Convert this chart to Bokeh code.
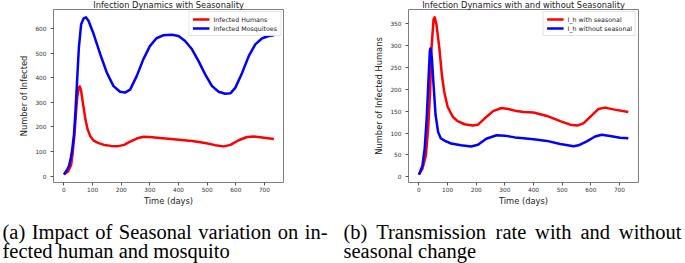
from bokeh.plotting import figure
from bokeh.models import Range1d, FixedTicker, Legend, LegendItem
from bokeh.layouts import column, row
from bokeh.embed import file_html
from bokeh.resources import INLINE
from bokeh.core.properties import value

# ---------------- data ----------------
x_ticks = [0, 100, 200, 300, 400, 500, 600, 700]
left_y_ticks = [0, 100, 200, 300, 400, 500, 600]
right_y_ticks = [0, 50, 100, 150, 200, 250, 300, 350]

left_title = "Infection Dynamics with Seasonality"
right_title = "Infection Dynamics with and without Seasonality"
x_label = "Time (days)"
left_y_label = "Number of Infected"
right_y_label = "Number of Infected Humans"
left_series = ["Infected Humans", "Infected Mosquitoes"]
right_series = ["I_h with seasonal", "I_h without seasonal"]

# (a) infected humans
left_human_days = [0, 15, 25, 30, 36, 41, 46, 51, 55, 60, 67, 75, 83, 92, 104, 121, 140,
                   165, 190, 210, 231, 254, 277, 300, 334, 375, 400, 447, 493, 528, 558,
                   581, 610, 639, 663, 692, 733]
left_human_vals = [6, 20, 45, 90, 160, 240, 318, 359, 365, 346, 291, 230, 189, 162, 144, 134, 127,
                   123, 122, 127, 140, 153, 160, 159, 155, 151, 148, 143, 135, 126, 121,
                   127, 146, 159, 161, 157, 151]
# (a) infected mosquitoes
left_mosq_days = [0, 11, 17, 23, 29, 35, 40, 44, 52, 60, 69, 77, 86, 104, 127, 150, 173, 196,
                  213, 231, 254, 277, 300, 323, 346, 377, 400, 423, 447, 470, 493, 517, 540,
                  563, 581, 598, 622, 645, 668, 692, 715, 733]
left_mosq_vals = [7, 26, 40, 67, 110, 169, 260, 346, 522, 618, 642, 646, 631, 577, 495, 420, 366, 343,
                  340, 352, 407, 475, 529, 561, 573, 575, 570, 550, 516, 468, 414, 366, 343,
                  335, 337, 359, 420, 488, 536, 561, 570, 573]
# (b) I_h with seasonal
right_seas_days = [0, 12, 24, 32, 39, 44, 51, 55, 61, 71, 80, 88, 100, 118, 135, 159, 188, 206,
                   229, 259, 288, 312, 341, 365, 400, 447, 493, 528, 553, 574, 598, 627, 650,
                   679, 731]
right_seas_vals = [5, 18, 48, 110, 195, 295, 360, 364, 348, 295, 233, 195, 160, 137, 127, 120, 117, 119,
                   133, 150, 157, 155, 150, 148, 147, 139, 127, 119, 117, 122, 137, 155, 158,
                   154, 148]
# (b) I_h without seasonal
right_noseas_days = [0, 12, 20, 27, 33, 38, 40, 45, 51, 58, 67, 76, 91, 112, 147, 182, 206, 235,
                     271, 300, 335, 365, 400, 447, 493, 540, 557, 586, 615, 638, 667, 702, 731]
right_noseas_vals = [5, 25, 64, 133, 218, 287, 293, 272, 210, 141, 102, 88, 82, 76, 72, 69, 73, 87,
                     95, 94, 90, 88, 86, 82, 75, 70, 72, 81, 92, 96, 93, 89, 88]

caption_a = ["(a) Impact of Seasonal variation on in-", "fected human and mosquito"]
caption_b = ["(b) Transmission rate with and without", "seasonal change"]

# ---------------- helpers ----------------
SANS = "DejaVu Sans"
SERIF = "Liberation Serif"


def make_panel(width, left_border, right_border, yr, yticks, title, ylabel, xs, ys, labels):
    p = figure(width=width, height=215, output_backend="svg", toolbar_location=None,
               x_range=Range1d(-36.5, 766.5), y_range=Range1d(*yr),
               min_border_left=left_border, min_border_right=right_border,
               min_border_top=0, min_border_bottom=30, title=title)
    p.title.text_font = SANS
    p.title.text_font_size = "8.3px"
    p.title.text_font_style = "normal"
    p.title.text_color = "#222222"
    p.title.align = "center"
    p.title.standoff = 0
    p.xaxis.ticker = FixedTicker(ticks=x_ticks)
    p.yaxis.ticker = FixedTicker(ticks=yticks)
    p.xaxis.axis_label = x_label
    p.yaxis.axis_label = ylabel
    p.grid.visible = False
    for ax in (p.xaxis[0], p.yaxis[0]):
        ax.axis_line_color = None
        ax.major_tick_line_color = "#555555"
        ax.major_tick_out = 3
        ax.major_tick_in = 0
        ax.minor_tick_line_color = None
        ax.major_label_text_font = SANS
        ax.major_label_text_font_size = "5.8px"
        ax.major_label_text_color = "#333333"
        ax.axis_label_text_font = SANS
        ax.axis_label_text_font_size = "8.3px"
        ax.axis_label_text_font_style = "normal"
        ax.axis_label_text_color = "#222222"
    p.xaxis.major_label_standoff = 1
    p.xaxis.axis_label_standoff = 1
    p.yaxis.major_label_standoff = 4
    p.yaxis.axis_label_standoff = 3
    p.outline_line_color = "#7f7f7f"
    p.outline_line_width = 1
    p.background_fill_color = "white"
    p.border_fill_color = "white"

    colors = ["#ff0000", "#0000ff"]
    items = []
    for xv, yv, lab, c in zip(xs, ys, labels, colors):
        r = p.line(xv, yv, line_color=c, line_width=2.5, line_join="round")
        items.append(LegendItem(label=lab, renderers=[r]))
    leg = Legend(items=items, location="top_right")
    leg.label_text_font = SANS
    leg.label_text_font_size = "6.3px"
    leg.label_text_color = "#222222"
    leg.glyph_width = 17
    leg.glyph_height = 8
    leg.label_height = 8
    leg.label_standoff = 4
    leg.spacing = 1
    leg.padding = 3
    leg.margin = 2
    leg.border_line_color = "#cccccc"
    leg.border_line_width = 1
    leg.background_fill_alpha = 0.9
    p.add_layout(leg)
    return p


p1 = make_panel(342, 53, 59, (-26, 678), left_y_ticks, left_title, left_y_label,
                [left_human_days, left_mosq_days], [left_human_vals, left_mosq_vals],
                left_series)
p2 = make_panel(343, 66, 47, (-13, 382), right_y_ticks, right_title, right_y_label,
                [right_seas_days, right_noseas_days], [right_seas_vals, right_noseas_vals],
                right_series)

# ---------------- caption (justified words) ----------------
TIMES = {' ': 250, '(': 333, ')': 333, '-': 333, '_': 500, 'I': 333, 'S': 556, 'T': 611,
         'a': 444, 'b': 500, 'c': 444, 'd': 500, 'e': 444, 'f': 333, 'g': 500, 'h': 500,
         'i': 278, 'l': 278, 'm': 778, 'n': 500, 'o': 500, 'p': 500, 'q': 500, 'r': 333,
         's': 389, 't': 278, 'u': 500, 'v': 500, 'w': 722, 'x': 500, 'y': 500}
CAP_SIZE = 20.5


def layout_line(line, x0, x1, justify):
    words = line.split()
    widths = [sum(TIMES.get(ch, 500) for ch in w) / 1000 * CAP_SIZE for w in words]
    if justify and len(words) > 1:
        gap = (x1 - x0 - sum(widths)) / (len(words) - 1)
    else:
        gap = 0.25 * CAP_SIZE
    xs, x = [], x0
    for w in widths:
        xs.append(x)
        x += w + gap
    return words, xs


cap = figure(width=685, height=51, output_backend="svg", toolbar_location=None,
             x_range=Range1d(0, 685), y_range=Range1d(51, 0),
             x_axis_location=None, y_axis_location=None, min_border=0)
cap.grid.visible = False
cap.outline_line_color = None
cap.background_fill_color = "white"
cap.border_fill_color = "white"

all_words, all_x, all_y = [], [], []
for lines, x0, x1 in ((caption_a, 2, 327), (caption_b, 343, 681)):
    for i, line in enumerate(lines):
        w, xs = layout_line(line, x0, x1, justify=(i == 0))
        all_words += w
        all_x += xs
        all_y += [19 if i == 0 else 38] * len(w)
cap.text(x=all_x, y=all_y, text=all_words, text_font=value(SERIF),
         text_font_size=f"{CAP_SIZE}px", text_baseline="alphabetic", text_align="left",
         text_color="black")

top = row(p1, p2, margin=(-3, 0, 0, 0))
layout = column(top, cap)
open("out.html", "w").write(file_html(layout, INLINE))
